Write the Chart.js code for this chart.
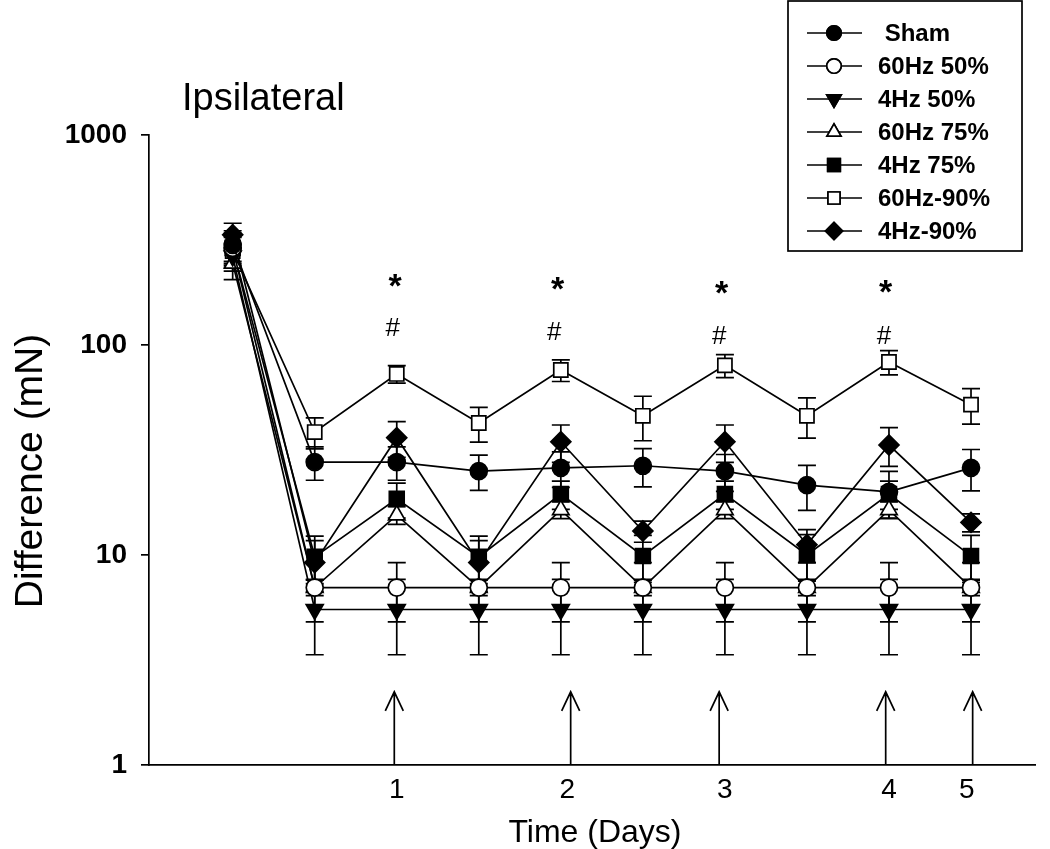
<!DOCTYPE html>
<html>
<head>
<meta charset="utf-8">
<script src="https://cdn.jsdelivr.net/npm/chart.js@4.4.1/dist/chart.umd.min.js"></script>
<style>
  html, body { margin: 0; padding: 0; background: #fff; }
  #wrap { width: 1050px; height: 849px; }
</style>
</head>
<body>
<div id="wrap"><canvas id="mainChart" width="1050" height="849"></canvas></div>
<script>
// Time points (index along the x axis, 0 = baseline)
var timeIndex = [0, 1, 2, 3, 4, 5, 6, 7, 8, 9];

// Day tick labels under the axis
var dayTickPos = [2, 4.08, 6, 8, 8.95];
var dayTickLabels = ["1", "2", "3", "4", "5"];

// Arrows (stimulation days)
var arrowPos = [1.97, 4.12, 5.93, 7.96, 9.02];
var arrowTop = 2.23;

// Significance marks
var starPos = [1.98, 3.96, 5.96, 7.96];
var starVal = [203, 197, 187, 189];
var hashPos = [1.95, 3.92, 5.93, 7.94];
var hashVal = [119, 114, 109, 109];

// Series means (mN)
var sham      = [300, 27.7, 27.7, 25.1, 26, 26.6, 25.1, 21.5, 20, 26];
var hz60_50   = [290, 7, 7, 7, 7, 7, 7, 7, 7, 7];
var hz4_50    = [265, 5.5, 5.5, 5.5, 5.5, 5.5, 5.5, 5.5, 5.5, 5.5];
var hz60_75   = [245, 7, 15.5, 7, 16.4, 7, 16.4, 7, 16.4, 7];
var hz4_75    = [290, 9.8, 18.5, 9.8, 19.5, 9.9, 19.5, 10, 19.5, 9.9];
var hz60_90   = [280, 38.5, 72.8, 42.5, 76, 46, 80, 46, 83, 52];
var hz4_90    = [335, 9.2, 36.2, 9.2, 34.6, 13, 34.6, 11.2, 33.4, 14.3];

// Standard errors
var shamErr    = [50, 5, 5, 4.8, 5, 5.5, 5, 5.2, 5, 5.8];
var hz60_50Err = [45, 2.2, 2.2, 2.2, 2.2, 2.2, 2.2, 2.2, 2.2, 2.2];
var hz4_50Err  = [40, 2.15, 2.15, 2.15, 2.15, 2.15, 2.15, 2.15, 2.15, 2.15];
var hz60_75Err = [40, 0.6, 1.5, 0.6, 1.5, 0.6, 1.5, 0.6, 1.5, 0.6];
var hz4_75Err  = [50, 2.5, 3.5, 2.5, 3, 2.5, 3, 2.5, 3, 2.5];
var hz60_90Err = [45, 6.5, 7, 8, 9, 11, 10, 10, 11, 10];
var hz4_90Err  = [45, 2.5, 7, 2.5, 7, 1.5, 7, 2, 7, 1.4];

var FONT = "'Liberation Sans', Arial, sans-serif";

function pts(arr) {
    return arr.map(function (v, i) { return { x: timeIndex[i], y: v }; });
}

function makeSet(label, values, errors, style, filled, radius, rotation) {
    return {
        label: label,
        data: pts(values),
        errors: errors,
        borderColor: "#000",
        borderWidth: 1.7,
        pointStyle: style,
        pointRotation: rotation || 0,
        pointRadius: radius,
        pointHoverRadius: radius,
        pointBackgroundColor: filled ? "#000" : "#fff",
        pointBorderColor: "#000",
        pointBorderWidth: 1.7,
        fill: false,
        tension: 0
    };
}

// Error bars drawn under the markers
var errorBars = {
    id: "errorBars",
    beforeDatasetsDraw: function (chart) {
        var ctx = chart.ctx;
        var ys = chart.scales.y;
        ctx.save();
        ctx.strokeStyle = "#000";
        ctx.lineWidth = 1.7;
        chart.data.datasets.forEach(function (ds, di) {
            var meta = chart.getDatasetMeta(di);
            ds.data.forEach(function (p, j) {
                var e = ds.errors[j];
                var x = meta.data[j].x;
                var yHi = ys.getPixelForValue(p.y + e);
                var yLo = ys.getPixelForValue(Math.max(p.y - e, 0.01));
                ctx.beginPath();
                ctx.moveTo(x, yHi); ctx.lineTo(x, yLo);
                ctx.moveTo(x - 9, yHi); ctx.lineTo(x + 9, yHi);
                ctx.moveTo(x - 9, yLo); ctx.lineTo(x + 9, yLo);
                ctx.stroke();
            });
        });
        ctx.restore();
    }
};

// Text, arrows, asterisks and the boxed legend
var extras = {
    id: "extras",
    afterDraw: function (chart) {
        var ctx = chart.ctx;
        var xs = chart.scales.x;
        var ys = chart.scales.y;
        ctx.save();
        ctx.fillStyle = "#000";
        ctx.strokeStyle = "#000";

        // arrows
        ctx.lineWidth = 1.7;
        arrowPos.forEach(function (v) {
            var x = xs.getPixelForValue(v);
            var y0 = ys.getPixelForValue(1);
            var y1 = ys.getPixelForValue(arrowTop);
            ctx.beginPath();
            ctx.moveTo(x, y0); ctx.lineTo(x, y1);
            ctx.moveTo(x - 9, y1 + 19); ctx.lineTo(x, y1); ctx.lineTo(x + 9, y1 + 19);
            ctx.stroke();
        });

        // * and #
        ctx.textAlign = "center";
        ctx.textBaseline = "middle";
        ctx.font = "bold 34px " + FONT;
        starPos.forEach(function (v, i) {
            ctx.fillText("*", xs.getPixelForValue(v), ys.getPixelForValue(starVal[i]) + 7);
        });
        ctx.font = "26px " + FONT;
        hashPos.forEach(function (v, i) {
            ctx.fillText("#", xs.getPixelForValue(v), ys.getPixelForValue(hashVal[i]));
        });

        // panel label
        ctx.textAlign = "left";
        ctx.textBaseline = "alphabetic";
        ctx.font = "38px " + FONT;
        ctx.fillText("Ipsilateral", 182, 110);

        // axis titles
        ctx.textAlign = "center";
        ctx.font = "32px " + FONT;
        ctx.fillText("Time (Days)", 595, 842);
        ctx.save();
        ctx.translate(42, 471);
        ctx.rotate(-Math.PI / 2);
        ctx.font = "39px " + FONT;
        ctx.fillText("Difference (mN)", 0, 0);
        ctx.restore();

        // legend box
        ctx.lineWidth = 1.7;
        ctx.strokeRect(788, 1, 234, 250);
        ctx.font = "bold 24px " + FONT;
        ctx.textAlign = "left";
        ctx.textBaseline = "middle";
        chart.data.datasets.forEach(function (ds, i) {
            var y = 33 + i * 33;
            ctx.beginPath();
            ctx.moveTo(807, y); ctx.lineTo(862, y);
            ctx.stroke();
            ctx.fillStyle = ds.pointBackgroundColor;
            Chart.helpers.drawPoint(ctx, {
                pointStyle: ds.pointStyle,
                rotation: ds.pointRotation,
                radius: ds.pointRadius * 0.85,
                borderWidth: 1.7
            }, 834, y);
            ctx.fill();
            ctx.stroke();
            ctx.fillStyle = "#000";
            ctx.fillText(ds.label, 878, y + 1);
        });
        ctx.restore();
    }
};

var ctx = document.getElementById("mainChart").getContext("2d");
var chart = new Chart(ctx, {
    type: "line",
    data: {
        datasets: [
            makeSet(" Sham", sham, shamErr, "circle", true, 8.5),
            makeSet("60Hz 50%", hz60_50, hz60_50Err, "circle", false, 8.5),
            makeSet("4Hz 50%", hz4_50, hz4_50Err, "triangle", true, 9.8, 180),
            makeSet("60Hz 75%", hz60_75, hz60_75Err, "triangle", false, 9.5),
            makeSet("4Hz 75%", hz4_75, hz4_75Err, "rect", true, 10.5),
            makeSet("60Hz-90%", hz60_90, hz60_90Err, "rect", false, 10),
            makeSet("4Hz-90%", hz4_90, hz4_90Err, "rectRot", true, 10)
        ]
    },
    options: {
        responsive: false,
        animation: false,
        events: [],
        layout: { padding: { top: 135, right: 15, left: 0, bottom: 0 } },
        plugins: { legend: { display: false }, tooltip: { enabled: false } },
        scales: {
            x: {
                type: "linear",
                min: -1.02,
                max: 9.78,
                afterFit: function (s) { s.height = 849 - 765; },
                afterBuildTicks: function (s) {
                    s.ticks = dayTickPos.map(function (v) { return { value: v }; });
                },
                ticks: {
                    autoSkip: false,
                    maxRotation: 0,
                    padding: 8,
                    color: "#000",
                    font: { family: FONT, size: 28 },
                    callback: function (v) {
                        var k = dayTickPos.indexOf(v);
                        return k >= 0 ? dayTickLabels[k] : "";
                    }
                },
                grid: { display: false, drawTicks: false },
                border: { display: true, color: "#000", width: 1.7 }
            },
            y: {
                type: "logarithmic",
                min: 1,
                max: 1000,
                afterFit: function (s) { s.width = 149; },
                afterBuildTicks: function (s) {
                    s.ticks = [1, 10, 100, 1000].map(function (v) { return { value: v }; });
                },
                ticks: {
                    padding: 14,
                    color: "#000",
                    font: { family: FONT, size: 28, weight: "bold" },
                    callback: function (v) { return String(v); }
                },
                grid: {
                    drawOnChartArea: false,
                    drawTicks: true,
                    tickLength: 8,
                    color: "#000",
                    lineWidth: 1.7
                },
                border: { display: true, color: "#000", width: 1.7 }
            }
        }
    },
    plugins: [errorBars, extras]
});
</script>
</body>
</html>
